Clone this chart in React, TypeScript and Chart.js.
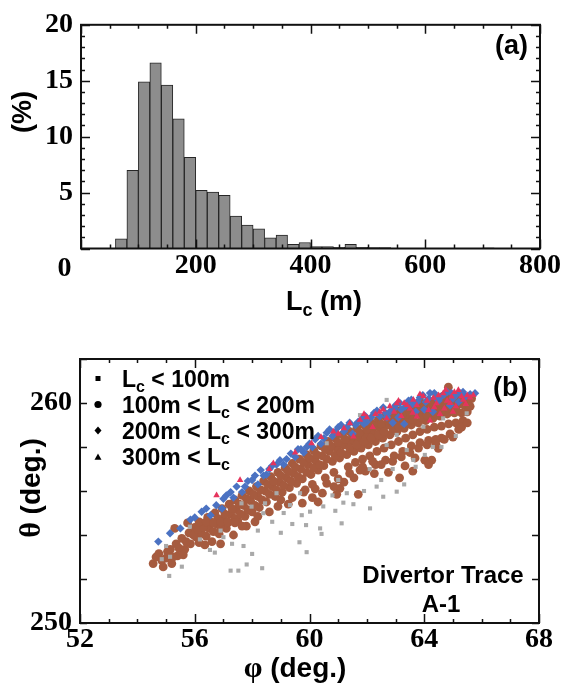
import React, { useEffect, useRef } from 'react';
import { Chart, registerables } from 'chart.js';

Chart.register(...registerables);

// ---------------- Panel (a): histogram of connection length ----------------
const BIN_WIDTH = 20;
const binStart = [60, 80, 100, 120, 140, 160, 180, 200, 220, 240, 260, 280, 300, 320, 340, 360, 380, 400, 420, 440, 460, 480, 500, 520, 700];
const binPercent = [0.86, 7.0, 14.9, 16.6, 14.6, 11.6, 8.15, 5.2, 5.05, 4.75, 2.9, 2.1, 1.75, 0.95, 1.2, 0.37, 0.54, 0.17, 0.17, 0.1, 0.37, 0.1, 0.08, 0.08, 0.05];
const lcTickLabels = [0, 200, 400, 600, 800];
const pctTickLabels = [0, 5, 10, 15, 20];

// ---------------- Panel (b): divertor trace (phi, theta) ----------------
const phiTickLabels = [52, 56, 60, 64, 68];
const thetaTickLabels = [250, 260];

const lcBelow100: [number, number][] = [
  [55.11, 252.14], [55.55, 252.56], [57.25, 252.38], [57.52, 252.38], [57.81, 252.66], [58.35, 252.49], [58.0, 253.14],
  [59.65, 253.67], [59.9, 253.22], [59.88, 254.45], [60.42, 254.05], [60.37, 254.3], [60.02, 255.06], [61.12, 254.53],
  [59.73, 254.9], [60.48, 255.3], [61.18, 255.47], [61.53, 255.4], [62.11, 255.21], [59.67, 255.9], [59.32, 255.36],
  [58.85, 255.9], [58.45, 255.44], [58.39, 254.99], [57.98, 255.29], [57.63, 255.44], [56.53, 253.32], [56.18, 253.8],
  [55.83, 254.38], [55.14, 253.01], [62.57, 255.74], [63.04, 255.97], [62.34, 256.2], [63.62, 257.41], [63.39, 257.86],
  [64.02, 257.64], [62.69, 258.09], [63.04, 258.55], [63.97, 258.92], [64.66, 259.3], [65.48, 259.53], [62.69, 260.14],
  [61.76, 259.45], [60.6, 258.17], [57.0, 253.9], [58.7, 254.6], [61.0, 256.5], [62.9, 257.0], [64.3, 258.0],
  [63.3, 256.3], [60.8, 255.8], [59.1, 255.0], [55.0, 253.5], [54.85, 252.9], [56.9, 254.2],
  [56.7, 253.2], [57.3, 253.6], [58.2, 254.2], [59.0, 254.1], [60.9, 255.1], [61.9, 256.0], [62.5, 256.5],
  [63.7, 257.1], [64.6, 258.0], [65.1, 258.5], [62.1, 257.0], [61.3, 255.9], [59.4, 254.5], [57.7, 253.5],
];

const lc100to200: [number, number][] = [
  [54.55, 252.7], [54.75, 253.15], [54.9, 252.55], [55.0, 252.95], [55.2, 252.7], [55.15, 253.35], [55.35, 253.6],
  [55.4, 253.05], [55.55, 253.85], [55.65, 253.35], [55.8, 254.1], [55.85, 253.6], [56.0, 254.35], [56.05, 253.9],
  [56.2, 254.55], [56.25, 254.05], [56.35, 253.55], [56.45, 254.8], [56.5, 254.3], [56.6, 253.7], [56.7, 255.0],
  [56.75, 254.5], [56.85, 254.05], [56.95, 255.2], [57.0, 254.75], [57.1, 254.3], [57.2, 255.4], [57.25, 254.95],
  [57.35, 254.0], [57.4, 255.6], [57.45, 255.15], [57.5, 254.65], [57.65, 255.8], [57.7, 255.35], [57.75, 254.85],
  [57.9, 256.0], [57.95, 255.55], [58.0, 255.05], [58.15, 256.2], [58.2, 255.75], [58.25, 255.25], [58.4, 256.45],
  [58.45, 256.0], [58.5, 255.5], [58.6, 255.05], [58.65, 256.65], [58.7, 256.2], [58.8, 255.75], [58.9, 256.85],
  [58.95, 256.4], [59.05, 255.95], [59.15, 257.05], [59.2, 256.6], [59.26, 255.4], [59.3, 256.15], [59.4, 257.25],
  [59.45, 256.8], [59.55, 256.35], [59.65, 257.45], [59.7, 257.0], [59.75, 256.55], [59.85, 256.05], [59.9, 257.65],
  [59.95, 257.2], [60.05, 256.75], [60.1, 256.3], [60.15, 257.85], [60.2, 257.4], [60.3, 256.95], [60.4, 258.05],
  [60.45, 257.6], [60.5, 257.15], [60.55, 256.6], [60.65, 258.25], [60.7, 257.8], [60.8, 257.35], [60.85, 256.85],
  [60.9, 258.4], [60.95, 257.95], [61.06, 256.12], [61.05, 257.5], [61.15, 258.55], [61.2, 258.1], [61.3, 257.65],
  [61.35, 257.1], [61.4, 258.7], [61.45, 258.25], [61.55, 257.8], [61.6, 257.3], [61.7, 255.85], [61.65, 258.85],
  [61.7, 258.4], [61.76, 256.95], [61.8, 257.95], [61.85, 257.45], [61.9, 259.0], [61.95, 258.55], [62.05, 258.1],
  [62.1, 257.6], [62.15, 259.1], [62.2, 258.7], [62.26, 256.79], [62.3, 258.25], [62.35, 257.8], [62.4, 259.25],
  [62.45, 258.85], [62.55, 258.4], [62.6, 257.95], [62.65, 259.4], [62.7, 259.0], [62.8, 258.55], [62.85, 258.1],
  [62.9, 259.5], [62.95, 259.1], [63.05, 258.7], [63.1, 258.25], [63.14, 256.6], [63.15, 259.65], [63.2, 259.25],
  [63.3, 258.85], [63.33, 257.14], [63.35, 258.4], [63.4, 259.8], [63.45, 259.4], [63.55, 259.0], [63.6, 258.55],
  [63.65, 259.9], [63.68, 257.5], [63.7, 259.5], [63.8, 259.1], [63.85, 258.7], [63.9, 260.0], [63.95, 259.6],
  [64.02, 257.4], [64.05, 259.2], [64.1, 258.8], [64.15, 260.1], [64.2, 259.7], [64.26, 257.4], [64.3, 259.3],
  [64.35, 258.9], [64.4, 260.2], [64.45, 259.8], [64.49, 257.94], [64.55, 259.4], [64.6, 258.95], [64.65, 260.3],
  [64.7, 259.9], [64.8, 259.5], [64.84, 260.72], [64.85, 259.05], [64.9, 260.35], [64.95, 259.95], [65.05, 259.55],
  [65.1, 259.1], [65.15, 260.35], [65.2, 259.95], [65.3, 259.55], [65.35, 260.3], [65.4, 259.9], [65.5, 259.6],
  [65.55, 260.15], [65.65, 260.2], [64.15, 258.3], [63.85, 258.2], [63.55, 258.05], [63.25, 257.8], [62.95, 257.6],
  [62.65, 257.4], [62.3, 257.2], [61.95, 256.9], [61.55, 256.6], [61.2, 256.4], [60.85, 256.2], [60.45, 255.9],
  [60.1, 255.7], [59.75, 255.45], [58.1, 254.6], [57.8, 254.4], [56.9, 253.6], [64.6, 258.4], [64.9, 258.6],
  [65.2, 258.8], [65.35, 259.2], [64.4, 258.35], [55.75, 254.55], [55.3, 254.3],
  [54.65, 253.0], [54.85, 252.85], [55.05, 253.25], [55.25, 253.0], [55.45, 253.4], [55.6, 253.1], [55.7, 253.7],
  [55.95, 254.0], [56.1, 254.25], [56.15, 253.65], [56.3, 254.35], [56.4, 253.95], [56.55, 254.6], [56.65, 254.15],
  [56.8, 254.75], [56.9, 254.35], [57.05, 254.95], [57.15, 254.55], [57.3, 255.2], [57.4, 254.75], [57.55, 255.4],
  [57.6, 254.95], [57.8, 255.65], [57.85, 255.15], [58.05, 255.85], [58.1, 255.35], [58.3, 256.05], [58.35, 255.6],
  [58.55, 256.3], [58.6, 255.85], [58.75, 256.45], [58.85, 256.05], [59.0, 256.7], [59.1, 256.25], [59.25, 256.9],
  [59.35, 256.45], [59.5, 257.1], [59.6, 256.65], [59.8, 257.3], [59.9, 256.85], [60.0, 257.5], [60.15, 257.05],
  [60.25, 257.65], [60.35, 257.2], [60.55, 257.9], [60.6, 257.45], [60.75, 258.05], [60.9, 257.6], [61.0, 258.2],
  [61.1, 257.75], [61.25, 258.35], [61.4, 257.95], [61.5, 258.5], [61.65, 258.1], [61.75, 258.65], [61.9, 258.25],
  [62.0, 258.8], [62.15, 258.4], [62.25, 258.95], [62.4, 258.55], [62.5, 259.05], [62.6, 258.7], [62.75, 259.2],
  [62.9, 258.85], [63.0, 259.35], [63.1, 258.95], [63.25, 259.5], [63.4, 259.1], [63.5, 259.6], [63.6, 259.25],
  [63.75, 259.7], [63.9, 259.35], [64.0, 259.8], [64.1, 259.45], [64.25, 259.9], [64.35, 259.55], [64.5, 260.0],
  [64.6, 259.65], [64.75, 260.1], [64.85, 259.75], [65.0, 260.05], [65.1, 259.75], [65.25, 260.15], [65.45, 260.0],
  [65.6, 259.85], [56.15, 254.6], [56.4, 254.6], [56.65, 254.55], [56.9, 254.6], [57.15, 254.6], [57.4, 254.55],
  [59.0, 255.6], [59.4, 255.7], [59.8, 255.95], [60.2, 256.1], [60.6, 256.35], [61.0, 256.55], [61.4, 256.8],
  [61.85, 257.1], [62.2, 257.35], [62.5, 257.2], [62.9, 257.35], [63.2, 257.55], [63.5, 257.75], [63.8, 257.95],
  [64.1, 258.1], [64.4, 258.15], [64.7, 258.35], [65.0, 258.45], [65.3, 258.9], [65.5, 259.1], [60.95, 255.85],
  [60.3, 255.5], [62.75, 256.85], [64.15, 257.2], [63.6, 256.9], [58.9, 255.3], [58.2, 254.85], [57.65, 254.4],
];

const lc200to300: [number, number][] = [
  [54.73, 253.7], [55.14, 254.08], [55.85, 254.7], [56.24, 255.06], [56.55, 254.9], [56.75, 255.35], [57.0, 255.65],
  [57.25, 255.95], [57.46, 256.2], [57.65, 255.95], [57.85, 256.45], [58.1, 256.7], [58.3, 256.95], [58.5, 256.75],
  [58.7, 257.15], [58.97, 257.4], [59.2, 257.45], [59.35, 257.7], [59.6, 257.9], [59.8, 257.75], [60.0, 258.15],
  [60.2, 258.35], [60.4, 258.15], [60.6, 258.65], [60.8, 258.5], [61.0, 258.9], [61.2, 258.7], [61.4, 259.1],
  [61.6, 259.0], [61.85, 259.3], [62.0, 259.15], [62.25, 259.55], [62.45, 259.4], [62.57, 259.8], [62.8, 259.6],
  [63.0, 259.9], [63.2, 259.7], [63.45, 260.1], [63.6, 259.95], [63.85, 260.25], [64.05, 260.05], [64.2, 260.45],
  [64.4, 260.25], [64.6, 260.3], [64.8, 260.5], [65.0, 260.2], [65.25, 260.45], [65.45, 260.3], [65.77, 260.44],
  [63.1, 259.35], [63.3, 259.05], [64.3, 259.6], [61.5, 258.6], [59.9, 258.0], [62.9, 259.1], [64.9, 259.9],
  [58.2, 256.3], [56.95, 255.2],
  [55.5, 254.3], [56.0, 254.8], [56.4, 255.2], [57.1, 255.8], [57.35, 255.7], [57.75, 256.2], [58.0, 256.5],
  [58.4, 256.7], [58.6, 257.0], [58.85, 257.2], [59.1, 257.2], [59.5, 257.55], [59.7, 257.9], [60.1, 258.0],
  [60.3, 258.5], [60.5, 258.4], [60.7, 258.8], [60.9, 258.7], [61.1, 259.0], [61.3, 258.9], [61.7, 259.15],
  [61.95, 259.4], [62.15, 259.35], [62.35, 259.65], [62.65, 259.55], [62.95, 259.75], [63.15, 260.0], [63.35, 259.85],
  [63.55, 260.15], [63.75, 260.05], [63.95, 260.35], [64.15, 260.2], [64.35, 260.45], [64.5, 260.1], [64.7, 260.4],
  [64.95, 260.45], [65.1, 260.35], [65.35, 260.5], [65.6, 260.4], [64.0, 259.7], [63.7, 259.6], [62.7, 259.35],
  [61.9, 259.05], [65.2, 260.05],
];

const lcAbove300: [number, number][] = [
  [56.76, 255.8], [57.58, 256.5], [58.74, 257.26], [58.6, 257.0], [59.5, 257.75], [60.07, 258.17], [60.4, 258.45],
  [60.83, 258.7], [61.2, 258.85], [61.41, 259.08], [61.53, 258.47], [61.76, 259.23], [62.0, 259.35], [62.3, 259.5],
  [62.57, 259.7], [62.69, 259.3], [62.8, 259.85], [63.04, 259.98], [63.3, 260.0], [63.5, 259.75], [63.62, 260.14],
  [63.74, 259.9], [63.74, 259.38], [63.97, 260.3], [64.15, 259.68], [64.32, 260.23], [64.43, 259.98], [64.55, 259.5],
  [64.66, 260.44], [64.8, 260.1], [64.95, 260.29], [65.1, 259.85], [65.19, 260.59], [65.36, 260.14], [65.5, 260.35],
  [65.71, 260.36], [65.0, 259.6], [64.2, 259.2], [63.2, 259.4], [62.2, 258.9],
  [61.0, 258.6], [61.9, 259.5], [62.45, 259.6], [63.1, 260.1], [63.4, 259.9], [63.85, 260.4], [64.1, 260.1],
  [64.5, 260.35], [64.75, 260.6], [65.05, 260.5], [65.3, 260.3], [65.6, 260.25], [64.9, 260.0], [64.35, 259.8],
  [63.6, 259.55], [62.95, 259.6], [65.45, 259.95], [64.7, 259.75],
];

// ---------------- helpers ----------------
const SERIF = '"Liberation Serif", "Times New Roman", serif';
const SANS = '"Liberation Sans", Arial, Helvetica, sans-serif';

type Seg = { t: string; size: number; serif?: boolean; sub?: boolean };
type TextItem = { segs: Seg[]; x: number; y: number; align: 'left' | 'center' | 'right'; rotate?: boolean };

function segFont(s: Seg) {
  const size = s.sub ? Math.round(s.size * 0.68) : s.size;
  return `bold ${size}px ${s.serif ? SERIF : SANS}`;
}

function drawSegs(ctx: CanvasRenderingContext2D, segs: Seg[], x: number, y: number, align: string) {
  let w = 0;
  for (const s of segs) {
    ctx.font = segFont(s);
    w += ctx.measureText(s.t).width;
  }
  let cx = align === 'left' ? x : align === 'center' ? x - w / 2 : x - w;
  ctx.textAlign = 'left';
  ctx.textBaseline = 'alphabetic';
  for (const s of segs) {
    ctx.font = segFont(s);
    ctx.fillText(s.t, cx, y + (s.sub ? s.size * 0.22 : 0));
    cx += ctx.measureText(s.t).width;
  }
}

type FrameCfg = {
  xMinor: number; xMajor: number; yMinor: number; yMajor: number;
  xMinorLen: number; xMajorLen: number; yMinorLen: number; yMajorLen: number;
  texts: TextItem[];
  legend?: { x: number; textX: number; rows: { y: number; shape: string; segs: Seg[] }[] };
};

function isMultiple(v: number, step: number) {
  const r = v / step;
  return Math.abs(r - Math.round(r)) < 1e-6;
}

function makeFramePlugin(cfg: FrameCfg) {
  return {
    id: 'frameTicksText',
    afterDraw(chart: any) {
      const { ctx, chartArea: a, scales } = chart;
      const xs = scales.x;
      const ys = scales.y;
      ctx.save();
      ctx.strokeStyle = '#111';
      ctx.lineWidth = 1.5;
      ctx.beginPath();
      for (let v = xs.min; v <= xs.max + 1e-9; v += cfg.xMinor) {
        const len = isMultiple(v, cfg.xMajor) ? cfg.xMajorLen : cfg.xMinorLen;
        const px = Math.round(xs.getPixelForValue(v)) + 0.5;
        ctx.moveTo(px, a.bottom); ctx.lineTo(px, a.bottom - len);
        ctx.moveTo(px, a.top); ctx.lineTo(px, a.top + len);
      }
      for (let v = ys.min; v <= ys.max + 1e-9; v += cfg.yMinor) {
        const len = isMultiple(v, cfg.yMajor) ? cfg.yMajorLen : cfg.yMinorLen;
        const py = Math.round(ys.getPixelForValue(v)) + 0.5;
        ctx.moveTo(a.left, py); ctx.lineTo(a.left + len, py);
        ctx.moveTo(a.right, py); ctx.lineTo(a.right - len, py);
      }
      ctx.stroke();
      ctx.lineWidth = 2;
      ctx.strokeRect(a.left, a.top, a.right - a.left, a.bottom - a.top);

      ctx.fillStyle = '#000';
      for (const t of cfg.texts) {
        if (t.rotate) {
          ctx.save();
          ctx.translate(t.x, t.y);
          ctx.rotate(-Math.PI / 2);
          drawSegs(ctx, t.segs, 0, 0, t.align);
          ctx.restore();
        } else {
          drawSegs(ctx, t.segs, t.x, t.y, t.align);
        }
      }
      if (cfg.legend) {
        const L = cfg.legend;
        for (const row of L.rows) {
          const my = row.y - 8;
          ctx.beginPath();
          if (row.shape === 'rect') {
            ctx.rect(L.x - 2.5, my - 2.5, 5, 5);
          } else if (row.shape === 'circle') {
            ctx.arc(L.x, my, 3.6, 0, Math.PI * 2);
          } else if (row.shape === 'diamond') {
            ctx.moveTo(L.x, my - 4); ctx.lineTo(L.x + 3.5, my); ctx.lineTo(L.x, my + 4); ctx.lineTo(L.x - 3.5, my); ctx.closePath();
          } else {
            ctx.moveTo(L.x, my - 3.5); ctx.lineTo(L.x + 3.5, my + 2.8); ctx.lineTo(L.x - 3.5, my + 2.8); ctx.closePath();
          }
          ctx.fill();
          drawSegs(ctx, row.segs, L.textX, row.y, 'left');
        }
      }
      ctx.restore();
    },
  };
}

const tickFont = { family: SERIF, size: 28, weight: 'bold' as const };

export default function App() {
  const refA = useRef<HTMLCanvasElement>(null);
  const refB = useRef<HTMLCanvasElement>(null);

  useEffect(() => {
    document.body.style.margin = '0';
    document.body.style.background = '#fff';

    // ---------- Chart (a) ----------
    const histData = binStart.map((s, i) => ({ x: s + BIN_WIDTH / 2, y: binPercent[i] }));
    const chartA = new Chart(refA.current as HTMLCanvasElement, {
      type: 'bar',
      data: {
        datasets: [
          {
            data: histData as any,
            backgroundColor: '#8d8d8d',
            borderColor: '#262626',
            borderWidth: 1,
            barPercentage: 1,
            categoryPercentage: 1,
          },
        ],
      },
      options: {
        animation: false,
        responsive: false,
        layout: { padding: { left: 0, right: 25, top: 16, bottom: 0 } },
        plugins: { legend: { display: false }, tooltip: { enabled: false } },
        scales: {
          x: {
            type: 'linear',
            offset: false,
            min: lcTickLabels[0],
            max: lcTickLabels[lcTickLabels.length - 1],
            grid: { display: false, drawTicks: false },
            border: { display: false },
            ticks: {
              stepSize: 200,
              autoSkip: false,
              maxRotation: 0,
              padding: 0,
              color: '#000',
              font: tickFont,
              callback: (v: any) => (Number(v) === 0 ? '' : String(v)),
            },
            afterFit: (s: any) => { s.height = 81.5; },
          },
          y: {
            min: pctTickLabels[0],
            max: pctTickLabels[pctTickLabels.length - 1],
            grid: { display: false, drawTicks: false },
            border: { display: false },
            ticks: {
              stepSize: 5,
              padding: 8,
              color: '#000',
              font: tickFont,
              callback: (v: any) => (Number(v) === 0 ? '' : String(v)),
            },
            afterFit: (s: any) => { s.width = 81; },
          },
        },
      } as any,
      plugins: [
        makeFramePlugin({
          xMinor: 50, xMajor: 200, yMinor: 1, yMajor: 5,
          xMinorLen: 4, xMajorLen: 9, yMinorLen: 4, yMajorLen: 9,
          texts: [
            { segs: [{ t: '(%)', size: 27 }], x: 31, y: 112, align: 'center', rotate: true },
            { segs: [{ t: 'L', size: 27 }, { t: 'c', size: 27, sub: true }, { t: ' (m)', size: 27 }], x: 324, y: 310, align: 'center' },
            { segs: [{ t: '(a)', size: 27 }], x: 528, y: 54, align: 'right' },
            { segs: [{ t: '0', size: 28, serif: true }], x: 64.5, y: 276, align: 'center' },
          ],
        }),
      ],
    });

    // ---------- Chart (b) ----------
    const toXY = (arr: [number, number][]) => arr.map(([x, y]) => ({ x, y }));
    const chartB = new Chart(refB.current as HTMLCanvasElement, {
      type: 'scatter',
      data: {
        datasets: [
          { label: 'Lc < 100m', data: toXY(lcBelow100), pointStyle: 'rect', pointRadius: 2.9, backgroundColor: '#a9a9a9', borderWidth: 0, order: 2 },
          { label: '100m < Lc < 200m', data: toXY(lc100to200), pointStyle: 'circle', pointRadius: 4.4, backgroundColor: '#a65b3f', borderWidth: 0, order: 3 },
          { label: '200m < Lc < 300m', data: toXY(lc200to300), pointStyle: 'rectRot', pointRadius: 4.2, backgroundColor: '#4b72c2', borderWidth: 0, order: 1 },
          { label: '300m < Lc', data: toXY(lcAbove300), pointStyle: 'triangle', pointRadius: 3.8, backgroundColor: '#e5345d', borderWidth: 0, order: 0 },
        ],
      },
      options: {
        animation: false,
        responsive: false,
        layout: { padding: { left: 0, right: 26, top: 29, bottom: 0 } },
        plugins: { legend: { display: false }, tooltip: { enabled: false } },
        scales: {
          x: {
            type: 'linear',
            min: phiTickLabels[0],
            max: phiTickLabels[phiTickLabels.length - 1],
            grid: { display: false, drawTicks: false },
            border: { display: false },
            ticks: { stepSize: 4, autoSkip: false, maxRotation: 0, padding: 0, color: '#000', font: tickFont },
            afterFit: (s: any) => { s.height = 68; },
          },
          y: {
            min: thetaTickLabels[0],
            max: 262,
            grid: { display: false, drawTicks: false },
            border: { display: false },
            ticks: {
              stepSize: 2,
              padding: 8,
              color: '#000',
              font: tickFont,
              callback: (v: any) => (thetaTickLabels.includes(Number(v)) ? String(v) : ''),
            },
            afterFit: (s: any) => { s.width = 80; },
          },
        },
      } as any,
      plugins: [
        makeFramePlugin({
          xMinor: 1, xMajor: 4, yMinor: 2, yMajor: 10,
          xMinorLen: 4, xMajorLen: 9, yMinorLen: 7, yMajorLen: 7,
          texts: [
            { segs: [{ t: 'θ', size: 30, serif: true }, { t: ' (deg.)', size: 28 }], x: 40, y: 158, align: 'center', rotate: true },
            { segs: [{ t: 'φ', size: 30, serif: true }, { t: ' (deg.)', size: 28 }], x: 295, y: 347, align: 'center' },
            { segs: [{ t: '(b)', size: 27 }], x: 527.5, y: 66, align: 'right' },
            { segs: [{ t: 'Divertor Trace', size: 24 }], x: 443, y: 253, align: 'center' },
            { segs: [{ t: 'A-1', size: 24 }], x: 441, y: 282, align: 'center' },
          ],
          legend: {
            x: 98,
            textX: 122,
            rows: [
              { y: 56.5, shape: 'rect', segs: [{ t: 'L', size: 23 }, { t: 'c', size: 23, sub: true }, { t: ' < 100m', size: 23 }] },
              { y: 82.5, shape: 'circle', segs: [{ t: '100m < L', size: 23 }, { t: 'c', size: 23, sub: true }, { t: ' < 200m', size: 23 }] },
              { y: 108.5, shape: 'diamond', segs: [{ t: '200m < L', size: 23 }, { t: 'c', size: 23, sub: true }, { t: ' < 300m', size: 23 }] },
              { y: 135, shape: 'triangle', segs: [{ t: '300m < L', size: 23 }, { t: 'c', size: 23, sub: true }] },
            ],
          },
        }),
      ],
    });

    return () => {
      chartA.destroy();
      chartB.destroy();
    };
  }, []);

  return (
    <div style={{ position: 'relative', width: 565, height: 691, background: '#fff', overflow: 'hidden' }}>
      <canvas ref={refA} width={565} height={330} style={{ position: 'absolute', left: 0, top: 0 }} />
      <canvas ref={refB} width={565} height={361} style={{ position: 'absolute', left: 0, top: 330 }} />
    </div>
  );
}
